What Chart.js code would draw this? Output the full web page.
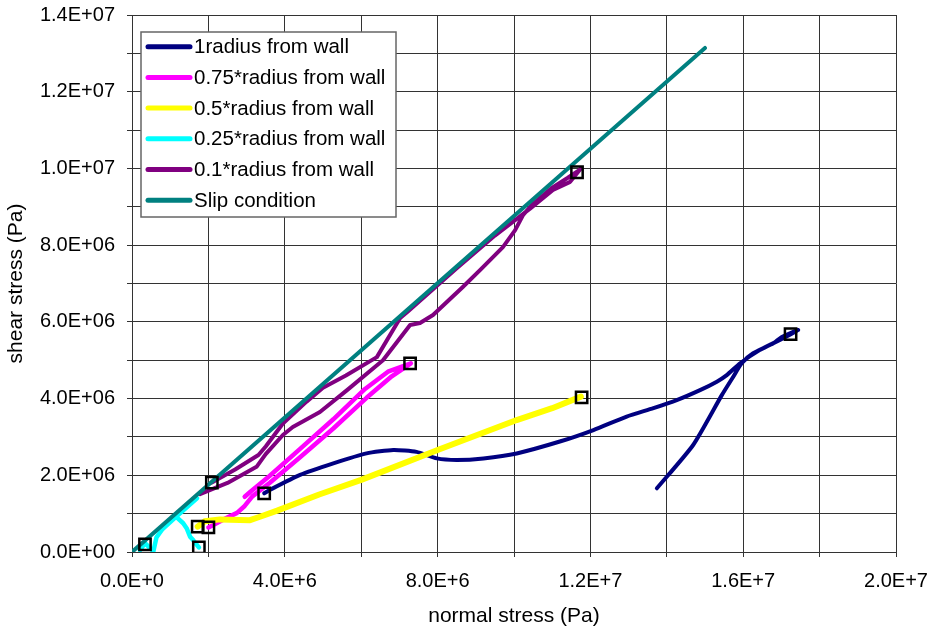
<!DOCTYPE html>
<html>
<head>
<meta charset="utf-8">
<title>Stress paths</title>
<script src="https://cdn.jsdelivr.net/npm/chart.js@4.4.1/dist/chart.umd.min.js"></script>
<style>
  html, body { margin: 0; padding: 0; background: #fff; }
  #wrap { width: 933px; height: 632px; }
</style>
</head>
<body>
<div id="wrap"><canvas id="stressChart" width="933" height="632"></canvas></div>
<script>
/* stress paths, values in MPa-sized units (x 1e6 Pa) */
const SCALE = 1e6;

const seriesNames = [
  "1radius from wall",
  "0.75*radius from wall",
  "0.5*radius from wall",
  "0.25*radius from wall",
  "0.1*radius from wall",
  "Slip condition",
];
const seriesColors = ["#000080", "#ff00ff", "#ffff00", "#00ffff", "#800080", "#008080"];

const wallX = [3.46, 3.61, 4.4, 5.27, 6.14, 6.84, 7.45, 7.98, 8.5, 9.2, 10.07, 11.2, 12.08, 12.95, 13.65, 14.26, 14.87, 15.31, 15.57, 15.92, 16.44, 16.96, 17.44, 17.0, 16.79, 16.26, 15.96, 15.74, 15.44, 14.69, 13.74];
const wallY = [1.53, 1.62, 2.01, 2.31, 2.57, 2.66, 2.61, 2.44, 2.40, 2.44, 2.57, 2.88, 3.18, 3.53, 3.75, 3.96, 4.22, 4.44, 4.61, 4.92, 5.27, 5.53, 5.79, 5.6, 5.44, 5.18, 4.92, 4.57, 4.09, 2.79, 1.66];

const r075X = [2.0, 2.4, 2.75, 2.95, 3.15, 3.6, 4.4, 5.27, 6.14, 6.8, 7.3, 6.7, 6.1, 5.27, 4.4, 3.6, 3.1, 2.95];
const r075Y = [0.64, 0.85, 1.02, 1.2, 1.45, 1.8, 2.47, 3.22, 4.02, 4.58, 4.92, 4.7, 4.25, 3.46, 2.69, 1.98, 1.57, 1.44];

const r05X = [1.72, 1.9, 2.3, 3.09, 3.35, 3.8, 4.9, 6.0, 8.0, 10.07, 11.0, 11.75];
const r05Y = [0.66, 0.8, 0.85, 0.83, 0.92, 1.08, 1.5, 1.88, 2.66, 3.44, 3.75, 4.05];

const r025X = [0.21, 0.34, 0.47, 0.56, 0.64, 0.8, 1.13, 1.7, 1.13, 1.34, 1.43, 1.52, 1.6, 1.75];
const r025Y = [0.05, 0.23, 0.1, 0.02, 0.38, 0.6, 0.9, 1.4, 0.94, 0.75, 0.62, 0.4, 0.31, 0.12];

const r01X = [2.09, 2.7, 3.31, 3.5, 3.95, 4.57, 5.0, 5.6, 6.41, 7.02, 7.2, 8.5, 9.5, 10.42, 11.02, 11.47, 11.75,
  11.7, 11.4, 11.0, 10.47, 10.24, 10.03, 9.71, 9.11, 8.66, 7.88, 7.54, 7.28, 6.57, 5.63, 4.92, 4.21, 3.95, 3.5, 3.26, 2.5, 1.78];
const r01Y = [1.81, 2.15, 2.53, 2.75, 3.35, 3.92, 4.28, 4.6, 5.08, 6.1, 6.25, 7.4, 8.25, 8.95, 9.44, 9.65, 10.0,
  9.95, 9.75, 9.5, 9.05, 8.79, 8.39, 7.95, 7.35, 6.91, 6.18, 5.97, 5.92, 5.0, 4.22, 3.65, 3.26, 3.05, 2.55, 2.22, 1.8, 1.51];

const slipX = [0, 15.0];
const slipY = [0, 13.14];

const markX = [0.34, 1.75, 1.72, 2.0, 2.09, 3.46, 7.28, 11.65, 11.77, 17.24];
const markY = [0.2, 0.12, 0.66, 0.64, 1.81, 1.53, 4.92, 9.9, 4.03, 5.68];

const xTickLabels = ["0.0E+0", "", "4.0E+6", "", "8.0E+6", "", "1.2E+7", "", "1.6E+7", "", "2.0E+7"];
const yTickLabels = ["0.0E+00", "", "2.0E+06", "", "4.0E+06", "", "6.0E+06", "", "8.0E+06", "", "1.0E+07", "", "1.2E+07", "", "1.4E+07"];

const FONT = "'Liberation Sans', Arial, sans-serif";

function toPoints(xs, ys) {
  return xs.map((x, i) => ({ x: x * SCALE, y: ys[i] * SCALE }));
}

const seriesData = [
  toPoints(wallX, wallY),
  toPoints(r075X, r075Y),
  toPoints(r05X, r05Y),
  toPoints(r025X, r025Y),
  toPoints(r01X, r01Y),
  toPoints(slipX, slipY),
];
const lineWidths = [4, 4.5, 6, 4.5, 4, 4];

const datasets = seriesData.map((data, i) => ({
  label: seriesNames[i],
  data,
  showLine: true,
  borderColor: seriesColors[i],
  backgroundColor: seriesColors[i],
  borderWidth: lineWidths[i],
  pointRadius: 0,
  tension: i === 0 ? 0.2 : 0,
  borderCapStyle: "round",
  borderJoinStyle: "round",
  order: 6 - i,
}));

datasets.push({
  label: "markers",
  data: toPoints(markX, markY),
  showLine: false,
  pointStyle: "rect",
  pointRadius: 8,
  pointBorderWidth: 2.5,
  pointBorderColor: "#000",
  pointBackgroundColor: "rgba(0,0,0,0)",
  order: 0,
});

// boxed legend inside the plot, upper left
const boxLegend = {
  id: "boxLegend",
  afterDatasetsDraw(chart) {
    const ctx = chart.ctx;
    const left = 141, top = 32, width = 255, height = 185;
    ctx.save();
    ctx.fillStyle = "#fff";
    ctx.fillRect(left, top, width, height);
    ctx.strokeStyle = "#666";
    ctx.lineWidth = 1.5;
    ctx.strokeRect(left, top, width, height);
    ctx.font = "20.5px " + FONT;
    ctx.textBaseline = "middle";
    ctx.fillStyle = "#000";
    chart.data.datasets.slice(0, seriesNames.length).forEach((ds, i) => {
      const y = top + 14.7 + i * 30.7;
      ctx.strokeStyle = ds.borderColor;
      ctx.lineWidth = 5;
      ctx.lineCap = "round";
      ctx.beginPath();
      ctx.moveTo(148, y);
      ctx.lineTo(190, y);
      ctx.stroke();
      ctx.fillText(ds.label, 194, y + 1);
    });
    ctx.restore();
  },
};

new Chart(document.getElementById("stressChart"), {
  type: "scatter",
  data: { datasets },
  plugins: [boxLegend],
  options: {
    responsive: false,
    animation: false,
    layout: { padding: { top: 15, right: 37, left: 0, bottom: 0 } },
    plugins: { legend: { display: false }, tooltip: { enabled: false } },
    scales: {
      x: {
        type: "linear",
        min: 0,
        max: 2e7,
        afterFit(scale) {
          scale.height = 80;
          scale.paddingLeft = 0;
          scale.paddingRight = 0;
        },
        border: { color: "#333", width: 1 },
        grid: { color: "#333", lineWidth: 1, tickLength: 5 },
        ticks: {
          stepSize: 2e6,
          autoSkip: false,
          maxRotation: 0,
          padding: 12,
          color: "#000",
          font: { family: FONT, size: 20 },
          callback: (value, index) => xTickLabels[index],
        },
        title: {
          display: true,
          text: "normal stress (Pa)",
          color: "#000",
          font: { family: FONT, size: 21 },
          padding: { top: 0, bottom: 3 },
        },
      },
      y: {
        type: "linear",
        min: 0,
        max: 1.4e7,
        afterFit(scale) {
          scale.width = 132;
          scale.paddingTop = 0;
          scale.paddingBottom = 0;
        },
        border: { color: "#333", width: 1 },
        grid: { color: "#333", lineWidth: 1, tickLength: 5 },
        ticks: {
          stepSize: 1e6,
          autoSkip: false,
          padding: 12,
          color: "#000",
          font: { family: FONT, size: 20 },
          callback: (value, index) => yTickLabels[index],
        },
        title: {
          display: true,
          text: "shear stress (Pa)",
          color: "#000",
          font: { family: FONT, size: 21 },
          padding: { top: 4, bottom: 0 },
        },
      },
    },
  },
});
</script>
</body>
</html>
